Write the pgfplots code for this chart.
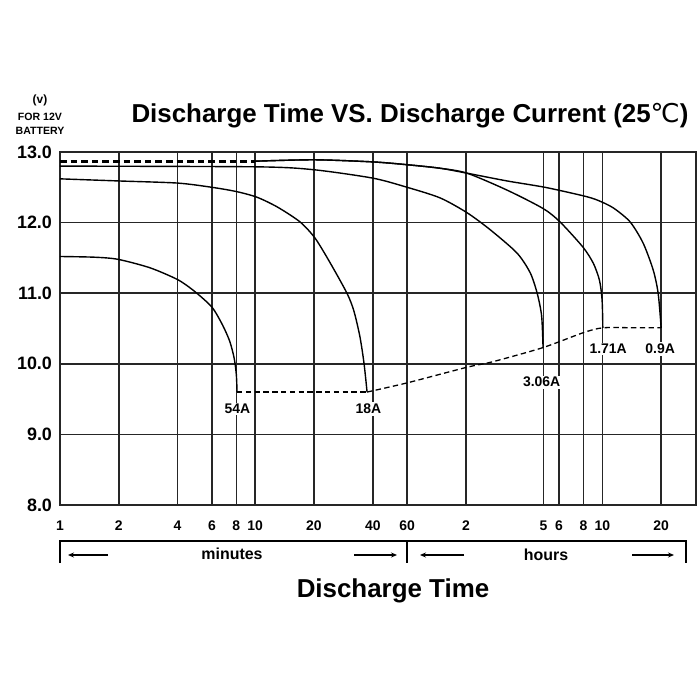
\documentclass[border=0pt]{standalone}
\usepackage{fontspec}
\setmainfont{Liberation Sans}
\newfontfamily\dejavu{DejaVu Sans}
\usepackage{pgfplots}
\pgfplotsset{compat=1.18}
\usetikzlibrary{arrows.meta}

\begin{document}
\begin{tikzpicture}
\path[use as bounding box] (-30bp,-97.5bp) rectangle (320bp,252.5bp);
\begin{axis}[
  at={(0,0)}, anchor=south west,
  scale only axis, width=318bp, height=176.5bp,
  xmode=log, xmin=1, xmax=1810, ymin=8, ymax=13,
  xtick={1,2,4,6,8,10,20,40,60,120,300,360,480,600,1200},
  xticklabels={1,2,4,6,8,10,20,40,60,2,5,6,8,10,20},
  ytick={8,9,10,11,12,13},
  yticklabels={8.0,9.0,10.0,11.0,12.0,13.0},
  major tick length=0pt, minor tick length=0pt,
  xmajorgrids=true, ymajorgrids=true,
  major grid style={black!85, line width=0.75bp},
  axis line style={black!85, line width=0.75bp},
  xticklabel style={font=\fontsize{7}{8}\selectfont\bfseries, yshift=-4.5bp},
  yticklabel style={font=\fontsize{9}{10}\selectfont\bfseries, xshift=-0.5bp},
  clip=false,
  every axis plot/.append style={black, line width=0.7bp},
]
% top dashed segment (1.71A and 0.9A start)
\addplot[line width=1.4bp, dash pattern=on 3.3bp off 2bp] coordinates {(1,12.87) (10,12.87)};
% 54A
\addplot[smooth, tension=0.45] coordinates {(1,11.52) (1.5,11.51) (1.98,11.48) (2.89,11.36) (4.02,11.19) (4.92,11.02) (6.01,10.80) (6.8,10.55) (7.4,10.32) (7.8,10.08) (8.0,9.85) (8.07,9.6)};
% 18A
\addplot[smooth, tension=0.45] coordinates {(1,12.62) (2,12.59) (4,12.56) (6,12.50) (8,12.44) (10.2,12.36) (13,12.22) (16.96,12.01) (20.25,11.78) (24.2,11.43) (29.5,11.0) (32,10.75) (34.4,10.38) (36.1,10.0) (37.4,9.6)};
% 3.06A
\addplot[smooth, tension=0.45] coordinates {(1,12.80) (10.2,12.79) (19.8,12.75) (40,12.63) (60,12.50) (88.5,12.35) (121.6,12.14) (159.6,11.90) (219,11.57) (256,11.29) (278,11.0) (293,10.68) (298,10.23)};
% 1.71A
\addplot[smooth, tension=0.45] coordinates {(10,12.87) (20,12.89) (40,12.86) (60,12.82) (88.5,12.77) (121.6,12.70) (195,12.46) (298,12.20) (364,12.01) (478,11.65) (540,11.42) (580,11.18) (598,10.9) (603,10.51)};
% 0.9A
\addplot[smooth, tension=0.45] coordinates {(10,12.87) (20,12.89) (40,12.86) (60,12.82) (88.5,12.77) (121.6,12.70) (195,12.59) (305,12.50) (478,12.38) (564,12.32) (681,12.21) (832,12.01) (970,11.71) (1092,11.33) (1158,11.0) (1200,10.51)};
% end-voltage dashed line
\addplot[line width=0.65bp, dash pattern=on 2.7bp off 1.7bp] coordinates {(8.07,9.6) (37.4,9.6)};
\addplot[line width=0.65bp, dash pattern=on 2.7bp off 1.7bp, smooth, tension=0.45] coordinates {(37.4,9.6) (60,9.73) (121,9.95) (165,10.03) (298,10.23) (478,10.44) (605,10.51) (900,10.51) (1200,10.51)};
% labels
\begin{scope}[every node/.style={fill=white, inner sep=0.8bp, font=\fontsize{7}{8}\selectfont\bfseries}]
\node at (axis cs:8.1,9.36) {54A};
\node at (axis cs:38,9.36) {18A};
\node at (axis cs:293,9.74) {3.06A};
\node at (axis cs:642,10.21) {1.71A};
\node at (axis cs:1186,10.21) {0.9A};
\end{scope}
\end{axis}
\begin{scope}[x=1bp, y=1bp]
% left unit labels
\node[font=\fontsize{6}{7}\selectfont\bfseries] at (-10,202.5) {(v)};
\node[font=\fontsize{5.3}{6}\selectfont\bfseries] at (-10,194) {FOR 12V};
\node[font=\fontsize{5.3}{6}\selectfont\bfseries] at (-10,187) {BATTERY};
% title
\node[font=\fontsize{13}{15}\selectfont\bfseries] at (175,194.5) {Discharge Time VS. Discharge Current (25{\dejavu\mdseries ℃})};
% bracket
\draw[black, line width=0.6bp] (0,-29) -- (0,-18) -- (313,-18) -- (313,-29);
\draw[black, line width=0.6bp] (173.5,-18) -- (173.5,-29);
\draw[black, line width=0.6bp, -{Stealth[length=3bp, width=2.5bp]}] (24,-25) -- (4,-25);
\draw[black, line width=0.6bp, -{Stealth[length=3bp, width=2.5bp]}] (147,-25) -- (168.5,-25);
\draw[black, line width=0.6bp, -{Stealth[length=3bp, width=2.5bp]}] (202,-25) -- (180,-25);
\draw[black, line width=0.6bp, -{Stealth[length=3bp, width=2.5bp]}] (286,-25) -- (307,-25);
\node[font=\fontsize{8}{9}\selectfont\bfseries] at (86,-24.5) {minutes};
\node[font=\fontsize{8}{9}\selectfont\bfseries] at (243,-25) {hours};
\node[font=\fontsize{13}{15}\selectfont\bfseries] at (166.5,-43) {Discharge Time};
\end{scope}
\end{tikzpicture}
\end{document}
